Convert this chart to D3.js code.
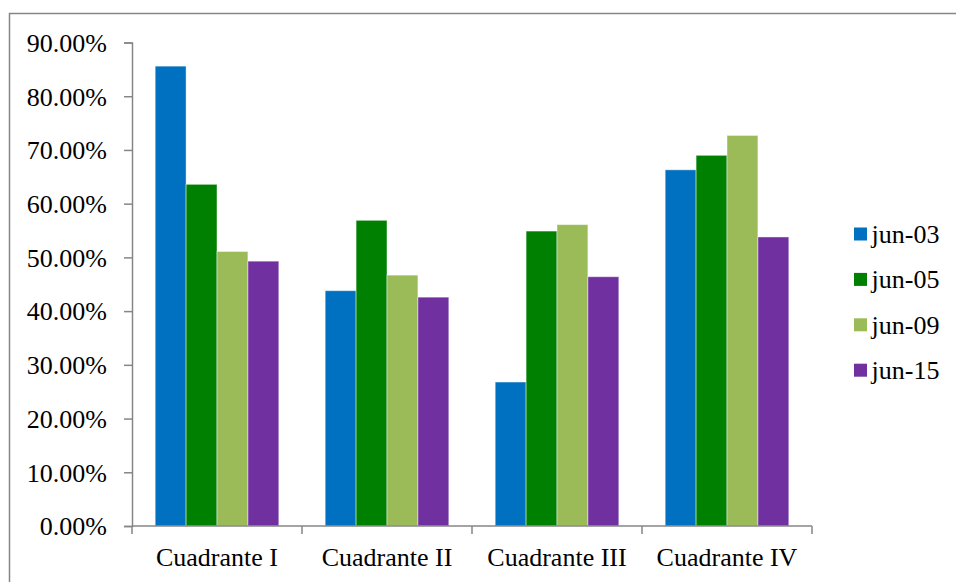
<!DOCTYPE html>
<html>
<head>
<meta charset="utf-8">
<script src="https://cdn.jsdelivr.net/npm/d3@7"></script>
<style>
  html, body { margin: 0; padding: 0; background: #fff; }
  svg { display: block; }
  text { font-family: "Liberation Serif", "Times New Roman", serif; fill: #000; }
</style>
</head>
<body>
<svg id="chart" width="956" height="582"></svg>
<script>
// Chart data
const categories = ["Cuadrante I", "Cuadrante II", "Cuadrante III", "Cuadrante IV"];
const seriesNames = ["jun-03", "jun-05", "jun-09", "jun-15"];
const jun03 = [85.6, 43.8, 26.8, 66.3];
const jun05 = [63.6, 56.9, 54.9, 69.0];
const jun09 = [51.1, 46.7, 56.1, 72.7];
const jun15 = [49.3, 42.6, 46.4, 53.8];
const yTicks = [0, 10, 20, 30, 40, 50, 60, 70, 80, 90];
const colors = ["#0070C0", "#008000", "#9BBB59", "#7030A0"];

const seriesValues = [jun03, jun05, jun09, jun15];

const svg = d3.select("#chart");
const fontSize = 26;

// Outer chart frame
svg.append("rect")
  .attr("x", 9.5).attr("y", 13.5)
  .attr("width", 960).attr("height", 600)
  .attr("fill", "none").attr("stroke", "#868686").attr("stroke-width", 1.5);

const plot = { left: 132, right: 812, top: 42.5, bottom: 526 };

const x0 = d3.scaleBand().domain(categories).range([plot.left, plot.right]);
// Bars fill 4/5.5 of each category band (150% gap between groups)
const gapRatio = 1.5 / 5.5;
const x1 = d3.scaleBand().domain(seriesNames)
  .range([x0.bandwidth() * gapRatio / 2, x0.bandwidth() * (1 - gapRatio / 2)]);
const y = d3.scaleLinear().domain([0, 90]).range([plot.bottom, plot.top]);

// Bars
const groups = svg.append("g").selectAll("g")
  .data(categories).join("g")
  .attr("transform", d => `translate(${x0(d)},0)`);

groups.selectAll("rect")
  .data((c, i) => seriesNames.map((s, k) => ({ s, k, v: seriesValues[k][i] })))
  .join("rect")
  .attr("x", d => x1(d.s))
  .attr("y", d => y(d.v))
  .attr("width", x1.bandwidth())
  .attr("height", d => y(0) - y(d.v))
  .attr("fill", d => colors[d.k])
  .attr("stroke", "rgba(255,255,255,0.45)")
  .attr("stroke-width", 1);

// Y axis
const yAxis = d3.axisLeft(y).tickValues(yTicks).tickSize(8).tickPadding(17)
  .tickFormat(d => d.toFixed(2) + "%");
const gy = svg.append("g").attr("transform", `translate(${plot.left},0)`).call(yAxis);
gy.select(".domain").attr("stroke", "#868686").attr("stroke-width", 1.5);
gy.selectAll(".tick line").attr("stroke", "#868686").attr("stroke-width", 1.5);
gy.selectAll(".tick text")
  .style("font-family", "Liberation Serif, Times New Roman, serif")
  .style("font-size", fontSize + "px").attr("fill", "#000").attr("dy", "0.34em");

// X axis: domain line and ticks at band boundaries
const gx = svg.append("g").attr("transform", `translate(0,${plot.bottom})`);
gx.append("line")
  .attr("x1", plot.left).attr("x2", plot.right)
  .attr("stroke", "#868686").attr("stroke-width", 1.5);
const boundaries = categories.map(c => x0(c)).concat([x0(categories[categories.length - 1]) + x0.bandwidth()]);
gx.selectAll("line.tk").data(boundaries).join("line")
  .attr("class", "tk")
  .attr("x1", d => d).attr("x2", d => d)
  .attr("y1", 0).attr("y2", 8)
  .attr("stroke", "#868686").attr("stroke-width", 1.5);
gx.selectAll("text").data(categories).join("text")
  .attr("x", d => x0(d) + x0.bandwidth() / 2)
  .attr("y", 40)
  .attr("text-anchor", "middle")
  .style("font-size", fontSize + "px")
  .text(d => d);

// Legend
const legend = svg.append("g").attr("transform", "translate(854,234)");
const items = legend.selectAll("g").data(seriesNames).join("g")
  .attr("transform", (d, i) => `translate(0,${i * 45.4})`);
items.append("rect")
  .attr("x", 0).attr("y", -6.5).attr("width", 13).attr("height", 13)
  .attr("fill", (d, i) => colors[i]);
items.append("text")
  .attr("x", 17.5).attr("y", 0).attr("dy", "0.34em")
  .style("font-size", fontSize + "px")
  .text(d => d);
</script>
</body>
</html>
